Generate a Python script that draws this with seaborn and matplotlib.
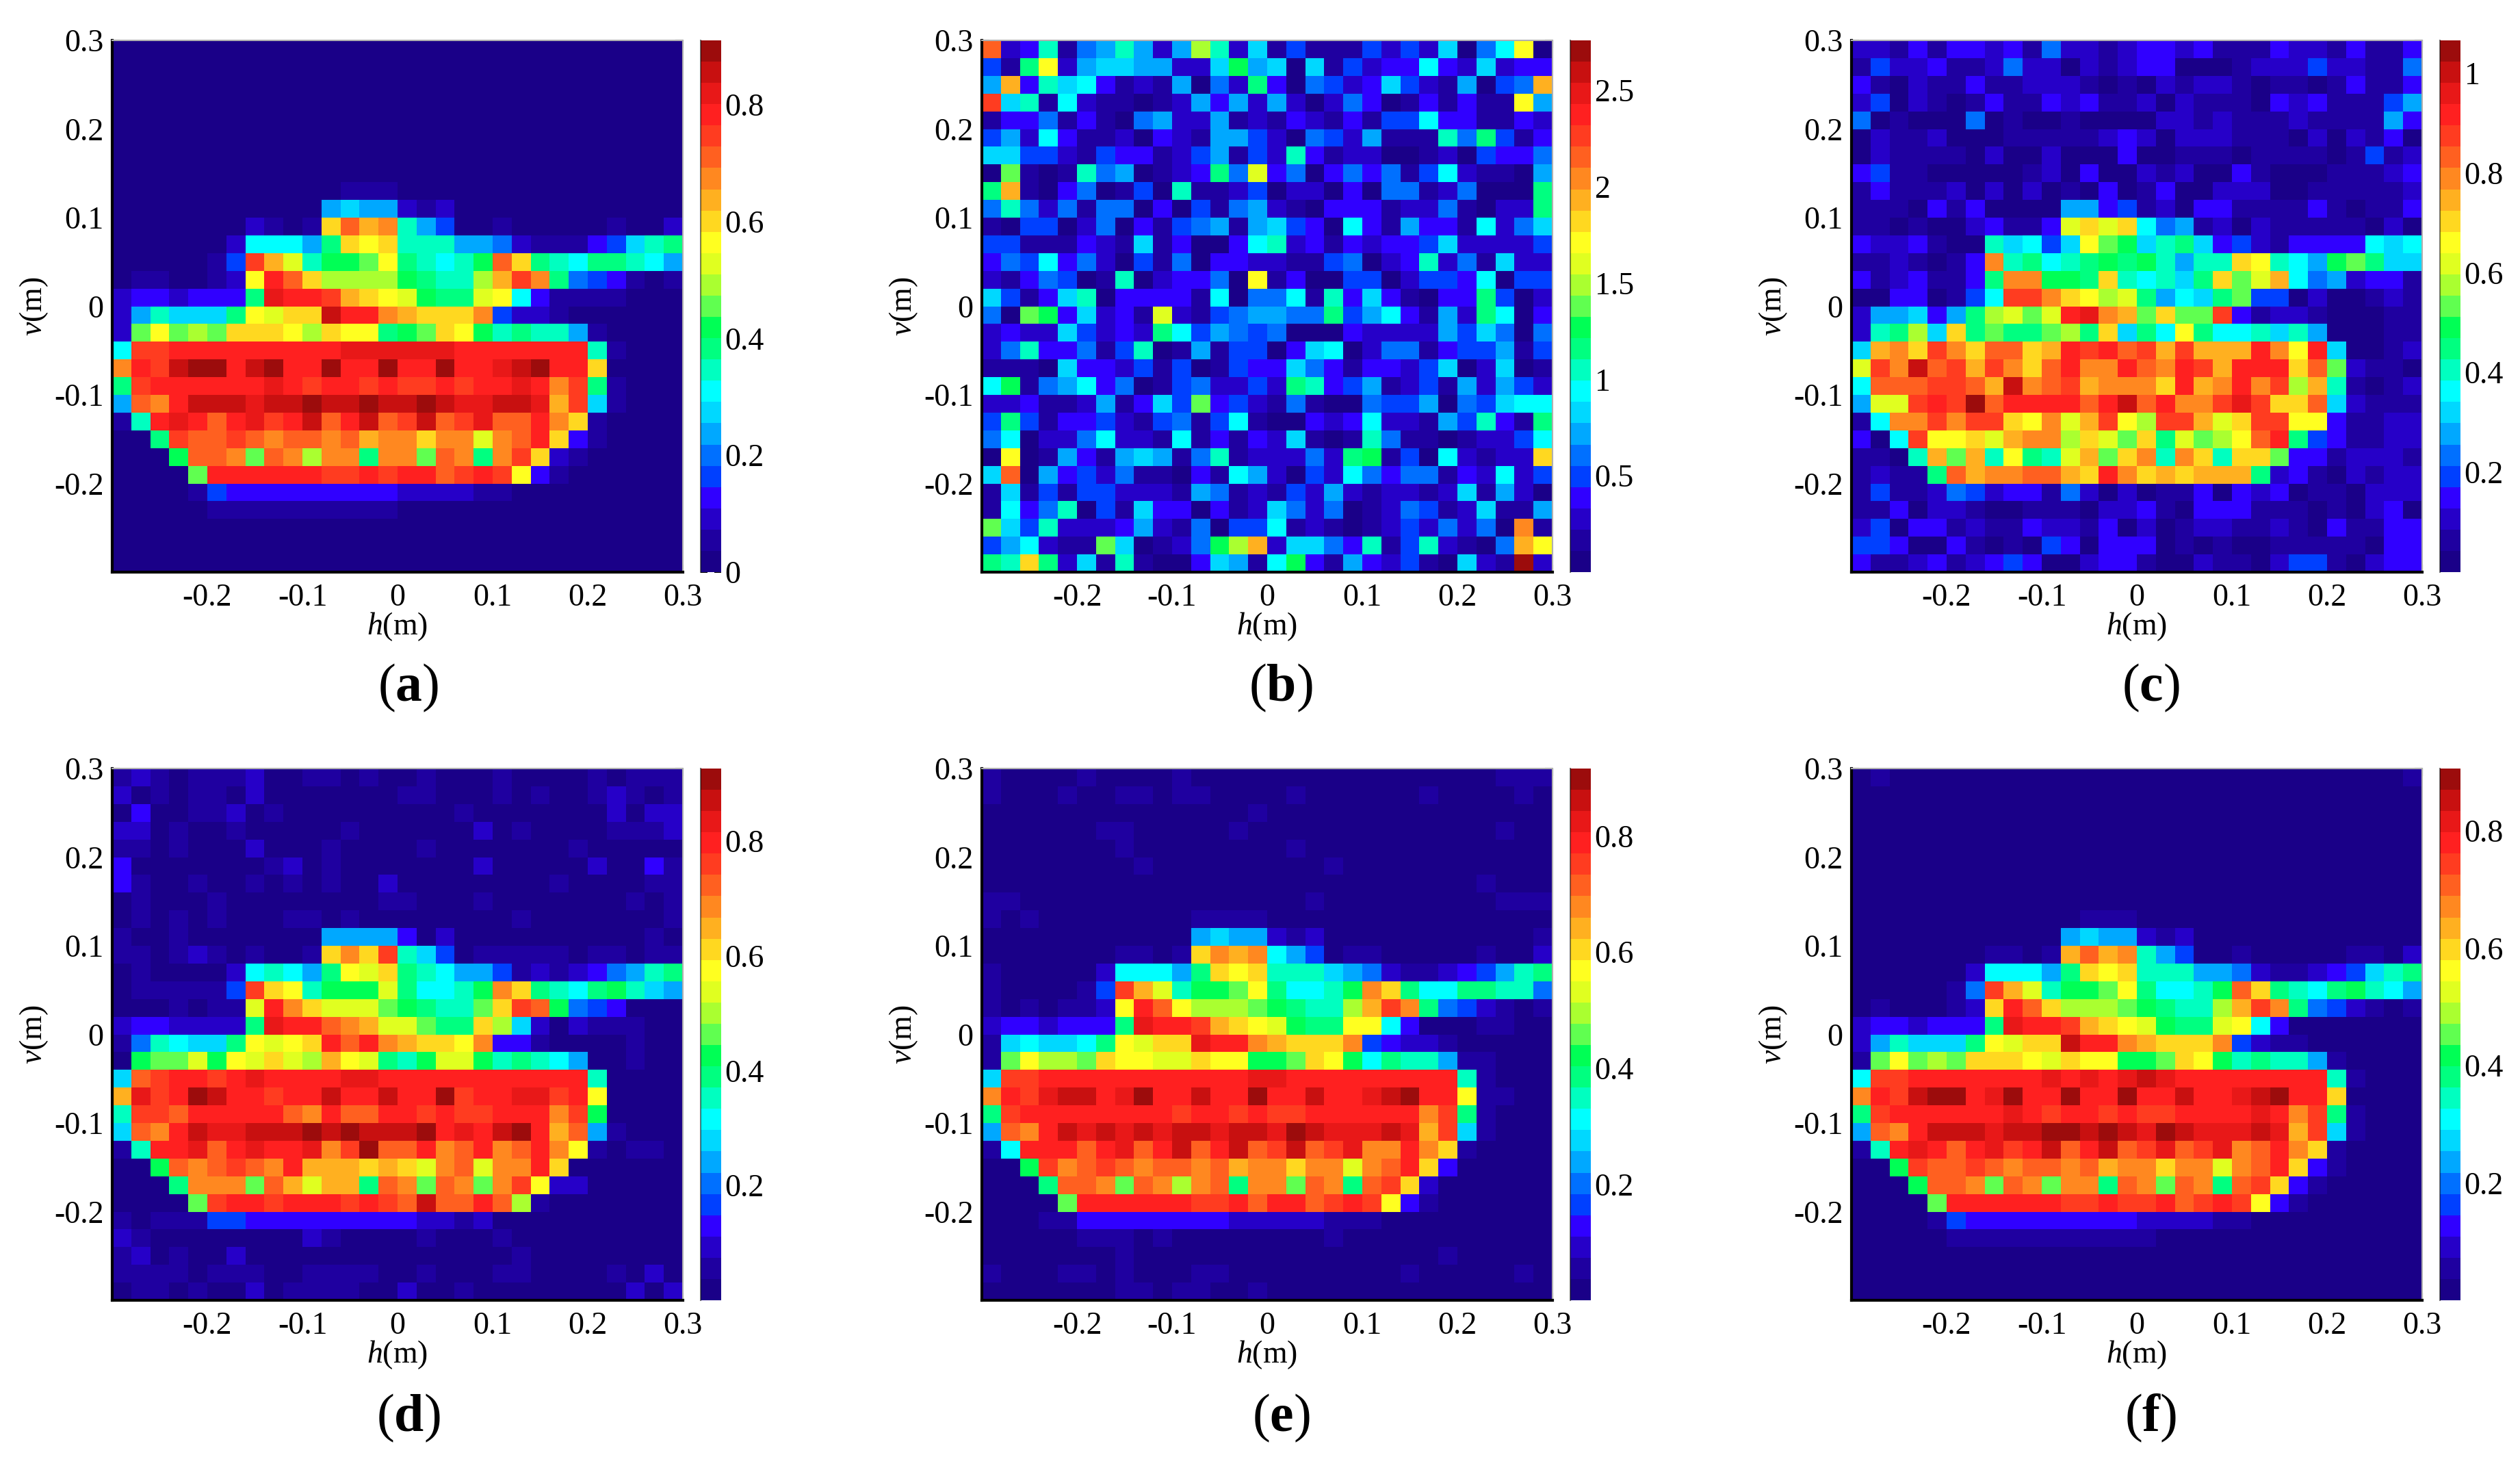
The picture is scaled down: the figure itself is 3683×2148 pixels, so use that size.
import numpy as np
import pandas as pd
import matplotlib
matplotlib.use("Agg")
import matplotlib.pyplot as plt
from matplotlib.colors import ListedColormap
import seaborn as sns

sns.set_theme(style="white")
plt.rcParams['font.family'] = ['Liberation Serif', 'DejaVu Serif']
plt.rcParams['mathtext.fontset'] = 'custom'
plt.rcParams['mathtext.it'] = 'Liberation Serif:italic'
plt.rcParams['mathtext.bf'] = 'Liberation Serif:bold'
plt.rcParams['mathtext.rm'] = 'Liberation Serif'

# Each character is one cell's level on a 25-step scale (0-9, a-o), rows top to bottom.
LEVELS = "0123456789abcdefghijklmno"
BLANK = ""

panel_a = [BLANK]*8 + [
"00000 00000 00111",
"00000 00000 06766 21200",
"00000 00210 1gjhi 96400 10000 01002",
"00000 02888 6agfg 99966 52111 3479a",
"00000 14khe 9bbcf a989b jga98 aa986",
"01100 12flj gdddd ba99d hkia5 43101",
"23323 33aml lkhgf ebaae f8311 11000",
"26977 7afeg gnlli hgggi 42210 00000",
"2cfcd cgggf dgffa bcgfb 9a996 10000",
"8kkll lllll llmmm mmmll lllll 91000",
"ilkno olnol lollo lloll mnoll g0000",
"aklll lllml kllkl kklkl lmlik a1000",
"6jiln nnmnn onnon nonmm nnmhk 71000",
"19lml jlmkl njlnj knjkm jjlig 10000",
"00akj jkjij jijhi igiie ijlg3 10000",
"000bj jicji diiai icjia ikg21 00000",
"0000c lllll lkklk lljkl kf310 00000",
"00001 43333 33333 22221 10000 00000",
"00000 11111 11111",
] + [BLANK]*3

panel_b = [
"j2391 56962 6d927 14111 42427 058f0",
"41af2 67766 227b6 70714 23383 27233",
"6h397 83121 6052a 30542 37421 6045h",
"k7918 21101 26362 62025 30131 311f6",
"13351 31056 22612 13213 14483 31132",
"46283 11203 21664 20542 61119 5a413",
"77442 14331 24614 29312 20012 04335",
"0c101 95601 23a5e 35035 35148 21106",
"ah103 50140 91124 02203 05512 5000a",
"59525 15503 04156 21033 31225 1022a",
"10440 25031 45616 74308 31633 18257",
"44111 32171 30038 92313 23347 22224",
"35483 52041 50332 21145 02392 51722",
"21354 01902 3350f 13004 40244 38044",
"74137 90333 31805 58193 73103 3a402",
"50cb3 7231e 21456 655a4 68316 2a803",
"23227 4232a 84654 50003 22226 47505",
"25933 51490 16144 03780 25513 44614",
"11107 33241 40143 37531 33247 02701",
"8b156 83501 45224 2a934 61241 62642",
"22311 26137 4c342 15100 54460 54788",
"4a413 34214 51481 00323 82216 4931a",
"58022 58221 81313 27101 95110 12248",
"0f016 31676 15912 2252a b1408 2122g",
"7j063 42511 03186 20428 53551 32824",
"17141 44222 16512 14262 12212 71620",
"18359 04173 30312 75250 12541 27116",
"c7492 22362 15044 81210 12425 250i1",
"46821 1c701 25bdh 27753 91492 105hf",
"a9ga2 71910 03761 8b316 32410 721o2",
]

panel_c = [
"22131 33231 52212 33231 11322 13113",
"14223 11252 20212 33000 12224 22115",
"31021 13112 22101 02122 10110 13113",
"24021 01311 32311 20211 10323 11146",
"50100 05010 01000 02212 11121 11163",
"02112 00011 11123 20222 11102 02130",
"02111 10200 20003 00111 01111 01412",
"34110 00001 20300 21200 31000 11123",
"13111 20202 01030 13002 22001 11112",
"11103 13000 06634 12033 11113 10113",
"11010 02311 3egeg 85612 02111 11020",
"32231 00978 47fcb 79a73 42133 33878",
"11210 13i9a 89aba b9699 gf986 bca77",
"31231 13aii bbag9 897ag ceh85 62331",
"00330 148kk igfde a687a c4402 00121",
"26673 6adec elmih cgcck 31221 00011",
"29ad7 gacaa cdag7 a8fa8 89796 00011",
"7higk igjjg hlklj khkhh hlifl 70012",
"ekinj khkig jliil jilkh lllgj c2110",
"8jjjk kjhni jkhii iglhi likdh 91012",
"6eekl kojll lljln jliik mkggj 72111",
"18iik ikkgf iehkf dkkhe gkkff 31122",
"308kf fgehi idgec gaecd fjla4 31122",
"1109h ch9fa 9ehcg i9ig9 ggc33 12221",
"1211a jhiij jhgli ghghh ha231 02122",
"14112 54233 15202 01130 32301 10222",
"11302 21001 11022 31033 31110 10230",
"24033 12113 22130 20122 11210 31133",
"44300 31010 43033 30101 00111 11033",
"31123 12343 00233 10021 10244 10233",
]

panel_d = [
"12101 11200 11010 01000 10000 10111",
"20101 10200 00000 11000 10100 12101",
"03001 12010 00000 00010 00000 02022",
"22010 01000 00100 00002 01000 01112",
"11010 00200 01000 01000 00001 00000",
"30000 00012 01000 00002 00000 20031",
"31001 00101 01002 00000 00010 00011",
"01000 10000 00001 10001 00000 00101",
"01010 10001 10100 00000 01000 00001",
"10010 00000 06666 30200 00000 00010",
"11012 10100 1gigk 97401 11110 11011",
"01000 02898 6afeg a9866 41212 3569a",
"01111 14kgf 9bbbe a889b iga98 ab976",
"00010 11eli geeec ba99c gkjb5 43000",
"23322 22aml ljihe ecaag d7202 11100",
"15987 7afef gljli hggfi 33100 00100",
"0bcce bfege dhfea 9beeb 9a986 00100",
"7jkll klmll llmml lllll lllll 90000",
"hmklo nllkl lnlln llokl lmmkl f0000",
"9kkjl llllj iljjl lklkk lllik b0000",
"7jiln mmnnn ononn nolml nolhj 61000",
"19llm jlmll mikoj jlijl ijlif 10110",
"00bji jkjil hhhgh geije iilg0 00000",
"000ai iicjh ehhaj icjic ikf22 00000",
"0000c kllkl llklk jnjjl jd100 00000",
"10111 44333 33333 32212 00000 00000",
"21000 00000 21000 01000 10000 00000",
"12010 02000 00000 00000 01000 00000",
"11110 11100 11110 01000 11000 01020",
"01101 00201 11100 20010 00000 00202",
]

panel_e = [
"10000 10000 10000 00000 00000 00111",
"10001 00110 11000 01000 00010 00010",
"00000 00000 00001",
"00000 01100 00010 00000 00000 00100",
"00000 00100 00000 01000",
"00000 00010 00000 00010",
"00000 00000 00000 00000 00000 01000",
"11000 00000 00000 00100 00000 00111",
"10100 00000 01111",
"00000 00000 06766 21200 00000 00001",
"00000 00110 1gihi 86401 10000 01002",
"10000 02888 6agfg 99976 52112 3469a",
"10000 14khe 9bbcf a889b iga88 aa995",
"10101 12flj fdddc ba99d hkia5 42101",
"23323 33aml lkhgf ebaaf f8300 01100",
"17877 8afeg gmlli hgggi 43221 00000",
"1cfdd cgffe egffb bcgfb 8a996 11000",
"7kkll lllll llllm mllll lllll 91000",
"ilkmn nlmol lnllo llnll mnoll f1100",
"aklll lllll kllkl kklll lllik a1000",
"6jiln mnmnm nnmnn monmm mnmhk 71000",
"18lll jlmjl njlnj knjkm iilig 10000",
"00bki jkjij jijhi igiie ijlg3 00000",
"000aj jicji dijai icjia jkg20 00000",
"0000c lllll lkklj lljkl kf310 00000",
"00011 33333 33322 22211 10000 00000",
"00000 11101 00000 00010",
"00000 00100 00000 00000 00001",
"10001 10100 01100 00000 00100 00010",
"00000 00110 11001",
]

panel_f = [
"01000 00000 00000 00000 00000 00001",
] + [BLANK]*7 + [
"00000 00000 00111",
"00000 00000 06766 21200",
"00000 00110 1hjhi 96400 10000 01102",
"00000 02888 6agfg 99966 52112 3479a",
"00000 15khe 9bbcf a889b jga98 ab986",
"01000 12glj gdddc ba99d hkia5 42101",
"23323 33aml lkhgf ebaae f8300 00000",
"26977 7afeg gnlli hgggi 42110 00000",
"1cfcd cgggf egffb bcgfb 9a996 10000",
"8kkll lllll mlmlm nmlll lllll 91000",
"ilkno olmol lollo llnll mnoll g0000",
"aklll lllml kllkl kklll lmlik a1000",
"6jiln nnmnn oonon monmm mnmhk 71000",
"19lml jlmkl njlnj kmjkm ijlig 10000",
"00bkj jkjij jijhi igiie ijlg3 10000",
"000bj jicji ciiaj icjia jkg31 00000",
"0000c lllll lkklk kljkl kf310 00000",
"00001 43333 33333 22221 10000 00000",
"00000 11111 11111 10000",
] + [BLANK]*3

panel_names = ["a", "b", "c", "d", "e", "f"]
panel_rows = [panel_a, panel_b, panel_c, panel_d, panel_e, panel_f]
colorbar_max = [0.91, 2.76, 1.065, 0.926, 0.916, 0.906]
colorbar_ticks = [
    [0, 0.2, 0.4, 0.6, 0.8],
    [0.5, 1, 1.5, 2, 2.5],
    [0.2, 0.4, 0.6, 0.8, 1],
    [0.2, 0.4, 0.6, 0.8],
    [0.2, 0.4, 0.6, 0.8],
    [0.2, 0.4, 0.6, 0.8],
]
h_ticks = [-0.2, -0.1, 0, 0.1, 0.2, 0.3]
v_ticks = [0.3, 0.2, 0.1, 0, -0.1, -0.2]
colours = ["#1a0088", "#1f00a0", "#2600c8", "#3000ff", "#0040ff", "#0070ff", "#00a8ff", "#00d8ff",
           "#00ffff", "#00ffc0", "#00ff80", "#00ff55", "#60ff50", "#aaff30", "#e0ff20", "#ffff20",
           "#ffd820", "#ffb020", "#ff8820", "#ff6020", "#ff3c20", "#ff2020", "#e81818", "#c81010", "#9c0c0c"]
jet_like = ListedColormap(colours)

W, H = 3683, 2148
fig = plt.figure(figsize=(W/100, H/100), dpi=100, facecolor="white")
FS = 33


def fmt(t):
    return f"{t:g}"


def decode(rows, vmax):
    out = []
    for r in rows:
        s = r.replace(" ", "").ljust(30, "0")[:30]
        out.append([LEVELS.index(ch) / 24 * vmax for ch in s])
    return np.array(out)


lefts = [164, 1435, 2706]
tops = [59, 1123]
label_x = [597, 1872, 3143]
label_y = [1005, 2072]
AW, AH = 834, 777
for k, (name, rows, vmax, cticks) in enumerate(zip(panel_names, panel_rows, colorbar_max, colorbar_ticks)):
    col, row = k % 3, k // 3
    x0, y0 = lefts[col], tops[row]
    ax = fig.add_axes([x0/W, 1-(y0+AH)/H, AW/W, AH/H])
    cax = fig.add_axes([(x0+860)/W, 1-(y0+AH)/H, 30/W, AH/H])
    data = pd.DataFrame(decode(rows, vmax))
    sns.heatmap(data, ax=ax, cbar_ax=cax, cmap=jet_like, vmin=0, vmax=vmax, xticklabels=False, yticklabels=False)
    ax.set_xticks([(t+0.3)/0.02 for t in h_ticks])
    ax.set_xticklabels([fmt(t) for t in h_ticks], fontsize=FS, rotation=0)
    ax.set_yticks([(0.3-t)/0.02 for t in v_ticks])
    ax.set_yticklabels([fmt(t) for t in v_ticks], fontsize=FS, rotation=0)
    ax.tick_params(axis="both", direction="in", length=8, width=1.5, color="black", top=True, right=True,
                   bottom=True, left=True, labelsize=FS, labelcolor="black")
    ax.tick_params(axis="x", pad=12)
    ax.tick_params(axis="y", pad=9)
    ax.set_xlabel(r"$\mathit{h}$(m)", fontsize=FS, labelpad=-2, color="black")
    ax.set_ylabel(r"$\mathit{v}$(m)", fontsize=FS, labelpad=4, color="black")
    for side in ("left", "bottom"):
        ax.spines[side].set_visible(True)
        ax.spines[side].set_color("black")
        ax.spines[side].set_linewidth(3)
    for side in ("top", "right"):
        ax.spines[side].set_visible(True)
        ax.spines[side].set_color("#b0b0b0")
        ax.spines[side].set_linewidth(1.5)
    cax.set_yticks(cticks)
    cax.set_yticklabels([fmt(t) for t in cticks], fontsize=FS, color="black")
    cax.tick_params(axis="y", direction="in", length=7, width=1.5, color="black", right=True, left=True, pad=4)
    cax.spines["left"].set_visible(True)
    cax.spines["left"].set_color("#00000080")
    cax.spines["left"].set_linewidth(1.5)
    fig.text(label_x[col]/W, 1-label_y[row]/H, "(" + r"$\mathbf{" + name + "}$" + ")", fontsize=56,
             ha="center", va="center", color="black")

fig.savefig("out.png", dpi=100, facecolor="white")
